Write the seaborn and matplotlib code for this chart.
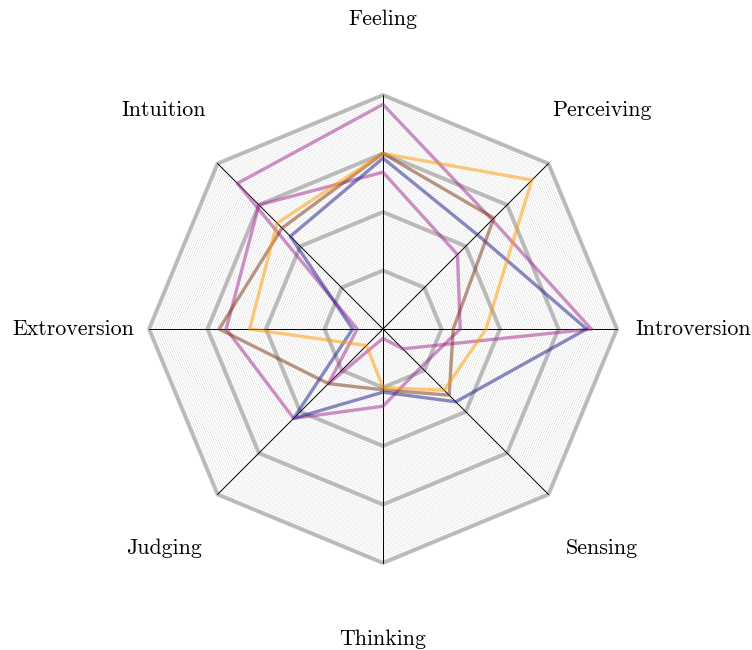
import numpy as np
import pandas as pd
import matplotlib
matplotlib.use("Agg")
import matplotlib.pyplot as plt
import seaborn as sns

# Axes of the radar, counter-clockwise from the right
categories = ['Introversion', 'Perceiving', 'Feeling', 'Intuition',
              'Extroversion', 'Judging', 'Thinking', 'Sensing']

# Scores per profile (0-100), same order as categories
purple_a = [89, 66, 96, 88, 11, 33, 4, 12]
purple_b = [33, 45, 67, 75, 67, 54, 33, 23]
navy = [87, 57, 73, 56, 13, 54, 27, 44]
brown = [30, 67, 75, 61, 70, 33, 26, 40]
orange = [44, 90, 75, 64, 57, 10, 25, 37]

ring_levels = [25, 50, 75, 100]
r_max = 100

sns.set_style('white')
plt.rcParams['font.family'] = ['cmr10', 'DejaVu Serif']
plt.rcParams['axes.unicode_minus'] = False

n = len(categories)
angles = np.arange(n) * 2 * np.pi / n


def polygon(values):
    v = np.append(values, values[0])
    a = np.append(angles, angles[0])
    return pd.DataFrame({'x': v * np.cos(a), 'y': v * np.sin(a)})


fig = plt.figure(figsize=(7.52, 6.5), dpi=100)
ax = fig.add_axes([0, 0, 1, 1])

# fine background hatching (thin concentric octagons)
for lev in np.linspace(0, r_max, 101)[1:]:
    d = polygon(np.full(n, lev))
    ax.plot(d['x'], d['y'], color='#d9d9d9', lw=0.35, zorder=1)

# main rings
for lev in ring_levels:
    d = polygon(np.full(n, lev))
    sns.lineplot(data=d, x='x', y='y', sort=False, estimator=None, ax=ax,
                 color='#9a9a9a', alpha=0.65, lw=2.8, zorder=2)

# spokes
for a in angles:
    ax.plot([0, r_max * np.cos(a)], [0, r_max * np.sin(a)], color='black', lw=0.7, zorder=3)

series = [
    (purple_a, '#a0288f'),
    (purple_b, '#a0288f'),
    (navy, '#1a1a8c'),
    (brown, '#7a3210'),
    (orange, '#ff9900'),
]
for vals, col in series:
    d = polygon(np.array(vals, dtype=float))
    sns.lineplot(data=d, x='x', y='y', sort=False, estimator=None, ax=ax,
                 color=col, alpha=0.5, lw=2.4, zorder=4)

# category labels
lab_r = 132.5
for a, name in zip(angles, categories):
    ax.text(lab_r * np.cos(a), lab_r * np.sin(a), name, ha='center', va='center',
            fontsize=15.8, color='black')

# map: 1 unit of 100 = 234 px, center at (383, 329)
px = r_max / 234.0
ax.set_xlim(-383 * px, (752 - 383) * px)
ax.set_ylim(-(650 - 329) * px, 329 * px)
ax.set_aspect('equal', adjustable='box')
ax.axis('off')
if ax.get_legend():
    ax.get_legend().remove()

plt.savefig('out.png', dpi=100)
